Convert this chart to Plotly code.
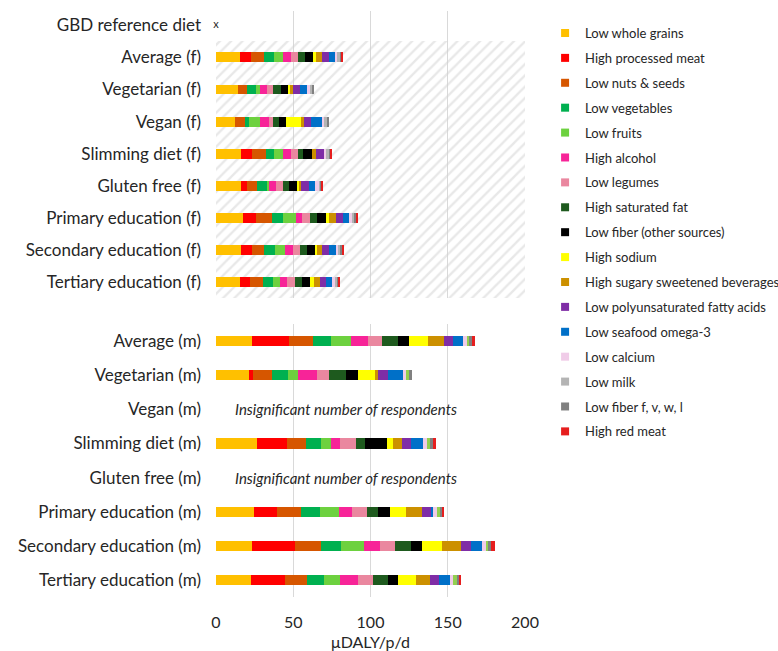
import plotly.graph_objects as go

# ---------------- data ----------------
factors = ["Low whole grains", "High processed meat", "Low nuts & seeds", "Low vegetables",
           "Low fruits", "High alcohol", "Low legumes", "High saturated fat",
           "Low fiber (other sources)", "High sodium", "High sugary sweetened beverages",
           "Low polyunsaturated fatty acids", "Low seafood omega-3", "Low calcium",
           "Low milk", "Low fiber f, v, w, l", "High red meat"]

female_cats = ["GBD reference diet", "Average (f)", "Vegetarian (f)", "Vegan (f)",
               "Slimming diet (f)", "Gluten free (f)", "Primary education (f)",
               "Secondary education (f)", "Tertiary education (f)"]
male_cats = ["Average (m)", "Vegetarian (m)", "Vegan (m)", "Slimming diet (m)",
             "Gluten free (m)", "Primary education (m)", "Secondary education (m)",
             "Tertiary education (m)"]

gbd_reference = 0

avg_f = [15.7, 6.9, 8.6, 6.5, 5.4, 5.2, 4.7, 4.7, 5.0, 2.2, 3.7, 4.5, 3.7, 1.7, 1.5, 1.5, 0.6]
veg_f = [14.2, 0, 6.0, 5.8, 2.2, 4.5, 4.3, 5.2, 5.0, 0.4, 2.2, 4.5, 4.7, 1.7, 1.3, 1.5, 0]
vegan_f = [12.1, 0, 6.5, 3.0, 7.1, 5.4, 3.0, 3.9, 4.3, 9.9, 1.7, 4.5, 7.1, 1.7, 1.5, 1.5, 0]
slim_f = [16.0, 7.3, 9.1, 5.2, 5.6, 5.2, 4.7, 3.2, 5.8, 0, 2.8, 4.7, 0, 1.9, 1.7, 1.1, 0.6]
gf_f = [16.0, 4.1, 6.7, 6.0, 1.5, 4.7, 4.5, 3.5, 5.8, 0.6, 1.9, 5.2, 3.7, 2.2, 1.3, 0.9, 0.9]
prim_f = [17.3, 8.6, 10.4, 7.3, 8.0, 4.3, 5.2, 4.5, 5.6, 1.7, 5.0, 4.3, 3.7, 2.2, 1.5, 1.1, 1.1]
sec_f = [16.0, 7.3, 8.0, 6.9, 6.3, 5.2, 4.7, 4.7, 4.7, 1.5, 3.2, 4.5, 4.5, 1.7, 1.3, 1.3, 0.6]
tert_f = [15.3, 6.7, 8.2, 6.5, 4.5, 5.0, 5.0, 4.7, 5.0, 2.6, 3.7, 4.3, 3.7, 1.7, 1.5, 1.1, 0.6]

avg_m = [23.5, 23.9, 15.2, 12.0, 12.6, 10.9, 9.6, 10.0, 7.0, 12.4, 10.4, 6.1, 6.3, 2.4, 1.5, 1.7, 2.2]
veg_m = [21.6, 2.4, 12.3, 10.2, 6.5, 12.6, 7.6, 10.8, 7.6, 11.3, 1.7, 6.9, 9.3, 2.2, 1.7, 1.9, 0]
vegan_m = None
slim_m = [26.8, 19.0, 12.6, 9.3, 6.5, 6.1, 10.2, 5.8, 14.3, 3.7, 5.8, 6.1, 8.0, 2.4, 2.2, 1.7, 2.2]
gf_m = None
prim_m = [24.7, 14.5, 16.0, 12.1, 12.6, 8.4, 9.3, 7.4, 7.8, 10.4, 10.0, 6.1, 1.3, 2.2, 2.2, 1.7, 0.9]
sec_m = [23.6, 27.5, 17.1, 12.6, 14.9, 10.4, 9.7, 10.4, 6.9, 13.0, 12.6, 6.1, 7.6, 2.4, 1.5, 1.7, 2.4]
tert_m = [22.5, 22.3, 14.1, 11.0, 10.6, 11.3, 9.5, 9.7, 7.1, 11.5, 8.7, 6.1, 6.9, 2.2, 2.2, 1.3, 1.3]

missing_note = "Insignificant number of respondents"
x_title = "μDALY/p/d"
x_ticks = [0, 50, 100, 150, 200]

# ---------------- style ----------------
colors_f = ["#FFC000", "#FF0000", "#D65600", "#00B050", "#6DD13F", "#F72498", "#EA879F",
            "#1E5A1E", "#000000", "#FFFF00", "#CC9000", "#7F2DA6", "#0070C8", "#F0CCE8",
            "#B4B4B4", "#808080", "#E61E1E"]
colors_m = list(colors_f)
colors_m[14] = "#92D050"

FONT = "Lato"
TXT = "#262626"

female_rows = [avg_f, veg_f, vegan_f, slim_f, gf_f, prim_f, sec_f, tert_f]
male_rows = [avg_m, veg_m, vegan_m, slim_m, gf_m, prim_m, sec_m, tert_m]


def stacked(rows, i):
    vals, bases = [], []
    for r in rows:
        if r is None:
            vals.append(None)
            bases.append(None)
        else:
            vals.append(r[i])
            bases.append(sum(r[:i]))
    return vals, bases


fig = go.Figure()

# hatched background of the female panel
fig.add_trace(go.Bar(
    y=female_cats[1:], x=[x_ticks[-1]] * len(female_cats[1:]), base=0, width=1,
    orientation="h", xaxis="x2", yaxis="y2", showlegend=False, hoverinfo="skip",
    marker=dict(color="rgba(0,0,0,0)", line=dict(width=0),
                pattern=dict(shape="/", fgcolor="#d2d2d2", bgcolor="rgba(0,0,0,0)",
                             size=8, solidity=0.3)),
))

for i, name in enumerate(factors):
    v, b = stacked(female_rows, i)
    fig.add_trace(go.Bar(
        y=female_cats[1:], x=v, base=b, orientation="h", name=name, width=0.31,
        xaxis="x2", yaxis="y2", legendgroup=name, showlegend=False,
        marker=dict(color=colors_f[i], line=dict(width=0)),
    ))
    v, b = stacked(male_rows, i)
    fig.add_trace(go.Bar(
        y=male_cats, x=v, base=b, orientation="h", name=name, width=0.30,
        xaxis="x", yaxis="y", legendgroup=name, showlegend=False,
        marker=dict(color=colors_m[i], line=dict(width=0)),
    ))
    # legend entry with a small square symbol
    fig.add_trace(go.Scatter(
        x=[None], y=[None], mode="markers", name=name, legendgroup=name,
        xaxis="x2", yaxis="y2", showlegend=True,
        marker=dict(symbol="square", size=8, color=colors_f[i], line=dict(width=0)),
    ))

# GBD reference diet marker
fig.add_trace(go.Scatter(
    x=[gbd_reference], y=[female_cats[0]], mode="text", text=["x"], cliponaxis=False,
    textfont=dict(family=FONT, size=11, color=TXT), xaxis="x2", yaxis="y2",
    showlegend=False, hoverinfo="skip",
))

for cat, row in zip(male_cats, male_rows):
    if row is None:
        fig.add_annotation(x=11, y=cat, xref="x", yref="y", text=missing_note,
                           showarrow=False, xanchor="left",
                           font=dict(family=FONT, size=15, color=TXT, style="italic"))

grid = "#d9d9d9"
fig.update_layout(
    width=778, height=651,
    margin=dict(l=216, r=253, t=11, b=54, autoexpand=False),
    paper_bgcolor="white", plot_bgcolor="white",
    barmode="overlay",
    font=dict(family=FONT, color=TXT),
    xaxis=dict(domain=[0, 1], range=[0, 200], tickvals=x_ticks, showgrid=True,
               gridcolor=grid, gridwidth=1, zeroline=False, showline=False,
               anchor="y", tickfont=dict(size=16, color=TXT), ticklabelstandoff=14,
               title=dict(text=x_title, font=dict(size=16, color=TXT), standoff=7)),
    xaxis2=dict(domain=[0, 1], range=[0, 200], tickvals=x_ticks, showgrid=True,
                gridcolor=grid, gridwidth=1, zeroline=False, showline=False,
                anchor="y2", showticklabels=False, matches="x"),
    yaxis=dict(domain=[0, 0.4659], categoryorder="array", categoryarray=male_cats,
               autorange="reversed", showgrid=False, zeroline=False,
               tickfont=dict(size=17, color=TXT), ticklabelstandoff=14),
    yaxis2=dict(domain=[0.5102, 1], categoryorder="array", categoryarray=female_cats,
                autorange="reversed", showgrid=False, zeroline=False,
                tickfont=dict(size=17, color=TXT), ticklabelstandoff=14),
    legend=dict(x=1.065, xanchor="left", y=0.988, yanchor="top",
                font=dict(family=FONT, size=13, color=TXT), tracegroupgap=5,
                itemwidth=30, bgcolor="rgba(0,0,0,0)"),
    bargap=0,
)

fig.write_html("out.html")
